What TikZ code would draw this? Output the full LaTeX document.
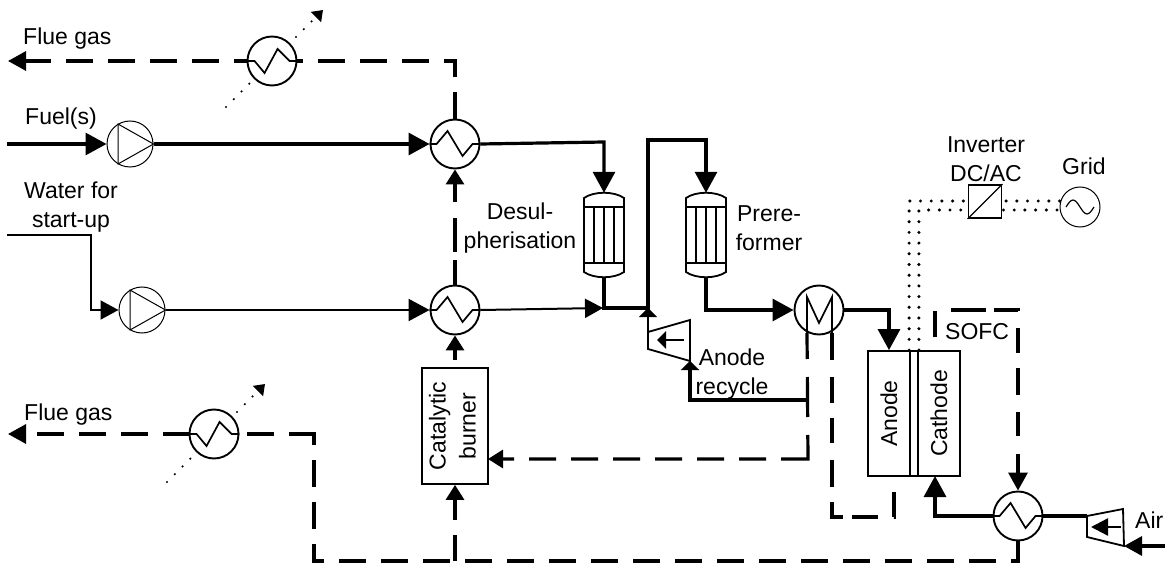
\documentclass[tikz,border=0pt]{standalone}
\usepackage{fontspec}
\setmainfont{Liberation Sans}
\usetikzlibrary{arrows.meta, backgrounds}
\tikzset{
  tag/.style={inner sep=0pt, align=center, font=\fontsize{23}{28.5}\selectfont},
  unitbox/.style={rectangle, draw=black, fill=white, line width=1.8pt, inner sep=0pt, font=\fontsize{23}{28.5}\selectfont},
  hx/.style={circle, draw=black, fill=white, line width=1.9pt, minimum size=49pt, inner sep=0pt},
  pumpnode/.style={circle, draw=black, fill=white, line width=1pt, minimum size=46pt, inner sep=0pt},
  vesselnode/.style={rectangle, minimum width=40pt, minimum height=84pt, inner sep=0pt},
  coil/.style={line width=1.7pt, line join=miter},
  vessel/.style={line width=1.8pt},
  thinpart/.style={line width=1pt},
  bigtip/.style={-{Triangle[length=21pt, width=22pt]}},
  midtip/.style={-{Triangle[length=18pt, width=19pt]}},
  smalltip/.style={-{Triangle[length=15pt, width=18pt]}},
  flattip/.style={-{Triangle[length=9pt, width=18pt]}},
  flow/.style={line width=3.2pt},
  waterflow/.style={line width=2pt},
  fluegas/.style={line width=3.2pt, dash pattern=on 27pt off 15pt},
  heat/.style={line width=2.4pt, line cap=round, dash pattern=on 0pt off 11pt, -{Triangle[length=10pt, width=14pt]}},
  power/.style={line width=3.4pt, line cap=round, dash pattern=on 0pt off 10.7pt}
}

\begin{document}
\begin{tikzpicture}[x=1pt, y=-1pt]
\useasboundingbox (0,0) rectangle (1165,564);

% heat exchangers and pumps
\node[hx] (hxtop) at (272,61) {};
\node[hx] (hxfuel) at (455,144) {};
\node[hx] (hxwater) at (455,310) {};
\node[hx] (hxflue) at (214,434) {};
\node[hx] (hxair) at (1018,516) {};
\node[hx] (cooler) at (819,310) {};
\node[pumpnode] (pumpfuel) at (130,144) {};
\node[pumpnode] (pumpwater) at (142,310) {};

% vessels and boxes
\node[vesselnode] (desulf) at (604,235) {};
\node[vesselnode] (preref) at (706,235) {};
\node[unitbox, minimum width=66pt, minimum height=116pt] (burner) at (455,426) {\rotatebox{90}{\begin{tabular}{@{}c@{}}Catalytic\\[1.5pt]burner\end{tabular}}};
\node[unitbox, minimum width=42pt, minimum height=125pt] (anode) at (889,413.5) {\rotatebox{90}{Anode}};
\node[unitbox, minimum width=8pt, minimum height=125pt] (membrane) at (914,413.5) {};
\node[unitbox, minimum width=42pt, minimum height=125pt] (cathode) at (939,413.5) {\rotatebox{90}{Cathode}};
\node[unitbox, minimum size=33pt] (inverter) at (985,201.5) {};
\node[pumpnode, minimum size=40pt] (grid) at (1080,207) {};

% free ends and corners
\coordinate (fuelin) at (7,144);
\coordinate (waterin) at (7,235);
\coordinate (waterbend) at (91,235);
\coordinate (fluetop) at (8,61);
\coordinate (fluelow) at (8,434);
\coordinate (fluecorner) at (314,434);
\coordinate (fluefloor) at (314,561);
\coordinate (burnerfloor) at (455,561);
\coordinate (desulfbend) at (604,142);
\coordinate (waterjoin) at (603,308);
\coordinate (split) at (648,308);
\coordinate (riser) at (648,140);
\coordinate (recyclein) at (690,361);
\coordinate (recycleout) at (648,332);
\coordinate (recyclejoin) at (807,400);
\coordinate (cooleft) at (807,333);
\coordinate (coolright) at (832,333);
\coordinate (coolcorner) at (808,459);
\coordinate (burnerin) at (488,459);
\coordinate (offgas) at (832,517);
\coordinate (offcorner) at (894,517);
\coordinate (anodeout) at (894,476);
\coordinate (cathodein) at (935,476);
\coordinate (sofctop) at (935,310);
\coordinate (sofcright) at (1018,310);
\coordinate (sofcstart) at (935,337);
\coordinate (aircompout) at (1087,516);
\coordinate (aircompin) at (1124,546);
\coordinate (airin) at (1165,546);
\coordinate (heattopa) at (226,107);
\coordinate (heattopb) at (323,10);
\coordinate (heatlowa) at (167,482);
\coordinate (heatlowb) at (265,384);
\coordinate (powera) at (1060,201);
\coordinate (powerb) at (1060,210);

\begin{pgfonlayer}{background}
  \draw[heat] (heattopa) -- (heattopb);
  \draw[heat] (heatlowa) -- (heatlowb);
  \draw[power] (membrane.north west) |- (powera);
  \draw[power] (membrane.north east) |- (powerb);

  \draw[flow, bigtip] (fuelin) -- (pumpfuel.west);
  \draw[flow, bigtip] (pumpfuel.east) -- (hxfuel.west);
  \draw[flow, bigtip] (hxfuel.east) -- (desulfbend) -- (desulf.north);
  \draw[flow, bigtip] (desulf.south) |- (split) -- (riser) -| (preref.north);
  \draw[flow, bigtip] (preref.south) |- (cooler.west);
  \draw[flow, bigtip] (cooler.east) -| (anode.north);
  \draw[flow, bigtip] (hxair.west) -| (cathodein);
  \draw[flow] (hxair.east) -- (aircompout);
  \draw[flow, midtip] (airin) -- (aircompin);
  \draw[waterflow, midtip] (waterin) -- (waterbend) |- (pumpwater.west);
  \draw[waterflow, bigtip] (pumpwater.east) -- (hxwater.west);
  \draw[waterflow, midtip] (hxwater.east) -- (waterjoin);
  \draw[waterflow, flattip] (recycleout) -- (split);
  \draw[flow, flattip] (recyclejoin) -| (recyclein);

  \draw[fluegas, midtip] (hxfuel.north) |- (hxtop.east) -- (hxtop.west) -- (fluetop);
  \draw[fluegas, smalltip, dash pattern=on 25pt off 8pt on 34pt off 16pt on 40pt] (hxwater.north) -- (hxfuel.south);
  \draw[fluegas, smalltip, dash pattern=on 0pt off 7pt on 40pt] (burner.north) -- (hxwater.south);
  \draw[fluegas] (hxair.south) |- (fluefloor) -- (fluecorner);
  \draw[fluegas, midtip] ([xshift=1.6pt]fluecorner) -- (hxflue.east) -- (hxflue.west) -- (fluelow);
  \draw[fluegas, smalltip, dash pattern=on 26pt off 15pt on 40pt] (burnerfloor) -- (burner.south);
  \draw[fluegas, smalltip, dash pattern=on 26pt off 18pt on 40pt off 18pt on 51pt off 15pt on 27pt off 15pt on 27pt off 15pt on 27pt off 15pt on 27pt off 15pt on 27pt off 15pt on 27pt off 15pt on 30pt] (cooleft) -- (coolcorner) -- (burnerin);
  \draw[fluegas, dash pattern=on 27pt off 17pt on 26pt off 15pt on 25pt off 17pt on 27pt off 15pt on 26pt off 9pt on 26pt off 16pt on 25pt off 20pt] (coolright) -- (offgas) -- (offcorner) -- (anodeout);
  \draw[fluegas, midtip, dash pattern=on 26pt off 17pt on 35pt off 8pt on 25pt off 17pt on 25pt off 15pt on 27pt off 17pt on 24pt off 18pt on 50pt] (sofcstart) -- (sofctop) -- (sofcright) -- (hxair.north);
\end{pgfonlayer}

% exchanger coils
\foreach \hxname in {hxfuel,hxwater,hxair}
  \draw[coil] (\hxname.west) -- ++(7,0) -- ++(11,-13) -- ++(15,25) -- ++(10,-12) -- (\hxname.east);
\foreach \hxname in {hxtop,hxflue}
  \draw[coil] (\hxname.west) -- ++(8,0) -- ++(10,12) -- ++(13,-24) -- ++(12,12) -- (\hxname.east);
\draw[coil] (cooleft) -- (807,297) -- (819,323) -- (832,297) -- (coolright);

% pump triangles
\foreach \pumpname in {pumpfuel,pumpwater}
  \draw[thinpart] ([xshift=-12pt,yshift=20pt]\pumpname.center) -- ([xshift=-12pt,yshift=-20pt]\pumpname.center) -- (\pumpname.east) -- cycle;

% vessel outlines
\foreach \vesselname in {desulf,preref} {
  \begin{scope}[shift={(\vesselname.center)}]
    \draw[vessel] (-20,-37) .. controls (-10,-44) and (10,-44) .. (20,-37) -- (20,37) .. controls (10,44) and (-10,44) .. (-20,37) -- cycle;
    \draw[vessel] (-20,-28) -- (20,-28);
    \draw[vessel] (-20,28) -- (20,28);
    \foreach \tubex in {-10,0,10}
      \draw[vessel] (\tubex,-28) -- (\tubex,28);
  \end{scope}
}

% compressors
\draw[vessel] (recycleout) -- (690,320) -- (recyclein) -- (648,349) -- cycle;
\draw[flow, line width=2.4pt, -{Triangle[length=9pt, width=17pt]}] (684,340) -- (657,340);
\draw[vessel] (aircompout) -- (1123,509) -- (aircompin) -- (1087,537) -- cycle;
\draw[flow, line width=2.4pt, -{Triangle[length=17pt, width=17pt]}] (1121,527) -- (1091,527);

% inverter and grid marks
\draw[thinpart, line width=1.3pt] (inverter.south west) -- (inverter.north east);
\draw[thinpart, line width=1.2pt] (1066,207) sin (1073,200) cos (1080,207) sin (1087,214) cos (1094,207);

% labels
\node[tag, anchor=base west] (fluetoplabel) at (23,45) {Flue gas};
\node[tag, anchor=base west] (fuellabel) at (25,125) {Fuel(s)};
\node[tag] (waterlabel) at (71,207) {Water for\\start-up};
\node[tag] (desulflabel) at (520,228) {Desul-\\pherisation};
\node[tag] (preflabel) at (769,228) {Prere-\\former};
\node[tag] (recyclelabel) at (732,374) {Anode\\recycle};
\node[tag] (inverterlabel) at (986,159) {Inverter\\DC/AC};
\node[tag, anchor=base west] (gridlabel) at (1062,175) {Grid};
\node[tag, anchor=base west] (sofclabel) at (945,339) {SOFC};
\node[tag, anchor=base west] (airlabel) at (1135,528) {Air};
\node[tag, anchor=base west] (fluelowlabel) at (24,420) {Flue gas};

\end{tikzpicture}
\end{document}
